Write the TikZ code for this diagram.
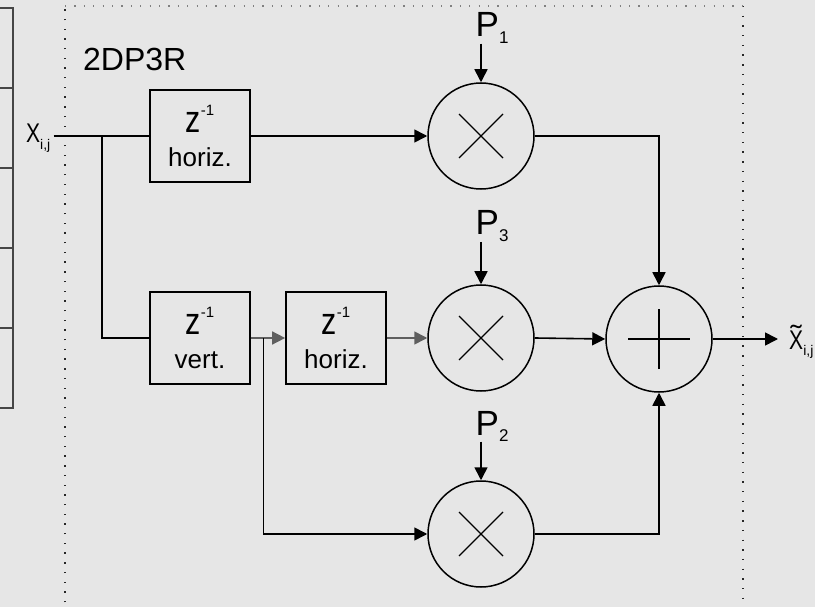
\documentclass[tikz,border=0pt]{standalone}
\usepackage{fontspec}
\setmainfont{Liberation Sans}
\usepackage{graphicx}
\usetikzlibrary{arrows.meta,calc}
\definecolor{bgc}{RGB}{230,230,230}
\definecolor{panelc}{RGB}{70,70,70}
\definecolor{thinc}{RGB}{95,95,95}
\newcommand{\zinv}{\scalebox{0.8}[1]{\fontsize{38}{38}\selectfont z}\raisebox{17pt}{\fontsize{15}{15}\selectfont -1}}
\newcommand{\bigX}{\scalebox{0.78}[1]{\fontsize{27}{27}\selectfont X}}
\newcommand{\bigXt}{\scalebox{0.78}[1]{\fontsize{27}{27}\selectfont\ooalign{\hidewidth\raisebox{5pt}{\scalebox{1.6}[1]{\char"02DC}}\hidewidth\cr X\cr}}}
\newcommand{\subij}[1]{\raisebox{#1}{\fontsize{14}{14}\selectfont i,j}}
\newcommand{\plab}[1]{\fontsize{35}{35}\selectfont P\raisebox{-6.5pt}{\fontsize{17}{17}\selectfont #1}}
\begin{document}
\begin{tikzpicture}[x=1pt,y=-1pt,
  conn/.style={line width=1.6pt, black},
  thinconn/.style={line width=1.6pt, thinc},
  arr/.style={conn, -{Triangle[length=13pt,width=13pt]}},
  thinarr/.style={thinconn, -{Triangle[length=13pt,width=13pt]}},
  dbox/.style={draw, line width=1.7pt, minimum width=100pt, minimum height=92pt,
    inner sep=0pt, align=center, font=\fontsize{26}{34}\selectfont},
  mult/.style={draw, circle, line width=1.5pt, minimum size=106pt, inner sep=0pt},
  lab/.style={anchor=base west, inner sep=0pt},
  cross/.style={line width=1.4pt}]
\fill[bgc] (0,0) rectangle (815,607);
\useasboundingbox (0,0) rectangle (815,607);

% left panel
\draw[panelc, line width=2pt] (-5,8) -- (13,8) -- (13,408) -- (-5,408);
\foreach \yy in {88,168,248,328} \draw[panelc, line width=2pt] (-5,\yy) -- (13,\yy);

% dotted frame
\draw[black!85, line width=1.4pt, dash pattern=on 1.4pt off 8.3pt] (65,612) -- (65,6);
\draw[black!85, line width=1.4pt, dash pattern=on 1.4pt off 8.3pt] (743,6) -- (743,612);
\draw[gray, line width=1.1pt, dash pattern=on 1.1pt off 8.3pt] (65,6) -- (743,6);

\node[lab] (title) at (83,71) {\fontsize{32}{32}\selectfont 2DP3R};

% blocks
\node[dbox] (h1) at (200,136) {\zinv\\horiz.};
\node[dbox] (v)  at (200,338) {\zinv\\vert.};
\node[dbox] (h2) at (336,338) {\zinv\\horiz.};

\node[mult] (m1) at (481,136) {};
\node[mult] (m3) at (481,338) {};
\node[mult] (m2) at (481,534) {};
\node[mult] (add) at (659,339) {};

\foreach \m in {m1,m3,m2}{
  \draw[cross] ([shift={(-22,-22)}]\m.center) -- ([shift={(22,22)}]\m.center);
  \draw[cross] ([shift={(-22,22)}]\m.center) -- ([shift={(22,-22)}]\m.center);
}
\draw[cross] ([xshift=-31pt]add.center) -- ([xshift=31pt]add.center);
\draw[cross] ([yshift=-30pt]add.center) -- ([yshift=30pt]add.center);

% labels
\node[lab] (xin) at (26,143) {\bigX\subij{-7pt}};
\node[lab] (xout) at (789,349) {\bigXt\subij{-6pt}};
\node[lab] (P1) at (475.5,37) {\plab{1}};
\node[lab] (P3) at (475.5,235) {\plab{3}};
\node[lab] (P2) at (475.5,435) {\plab{2}};

\coordinate (br1) at (102,136);
\coordinate (br2) at (263,338);
\coordinate (outend) at (778,339);

% connectors
\draw[conn] ([xshift=3pt]xin.east |- h1.west) -- (h1.west);
\draw[line width=1.3pt] (br1) -- (br1 |- v.west) -- (v.west);
\draw[arr] (h1.east) -- (m1.west);
\draw[thinarr] (v.east) -- (h2.west);
\draw[thinarr] (h2.east) -- (m3.west);
\draw[line width=1pt] (br2) -- (br2 |- m2.west);
\draw[arr] (br2 |- m2.west) -- (m2.west);

\draw[arr] (m1.north |- P1.south) -- (m1.north);
\draw[arr] (m3.north |- P3.south) -- (m3.north);
\draw[arr] (m2.north |- P2.south) -- (m2.north);

\draw[arr] (m1.east) -| (add.north);
\draw[arr] (m3.east) -- (add.west);
\draw[arr] (m2.east) -| (add.south);
\draw[arr] (add.east) -- (outend);
\end{tikzpicture}
\end{document}
